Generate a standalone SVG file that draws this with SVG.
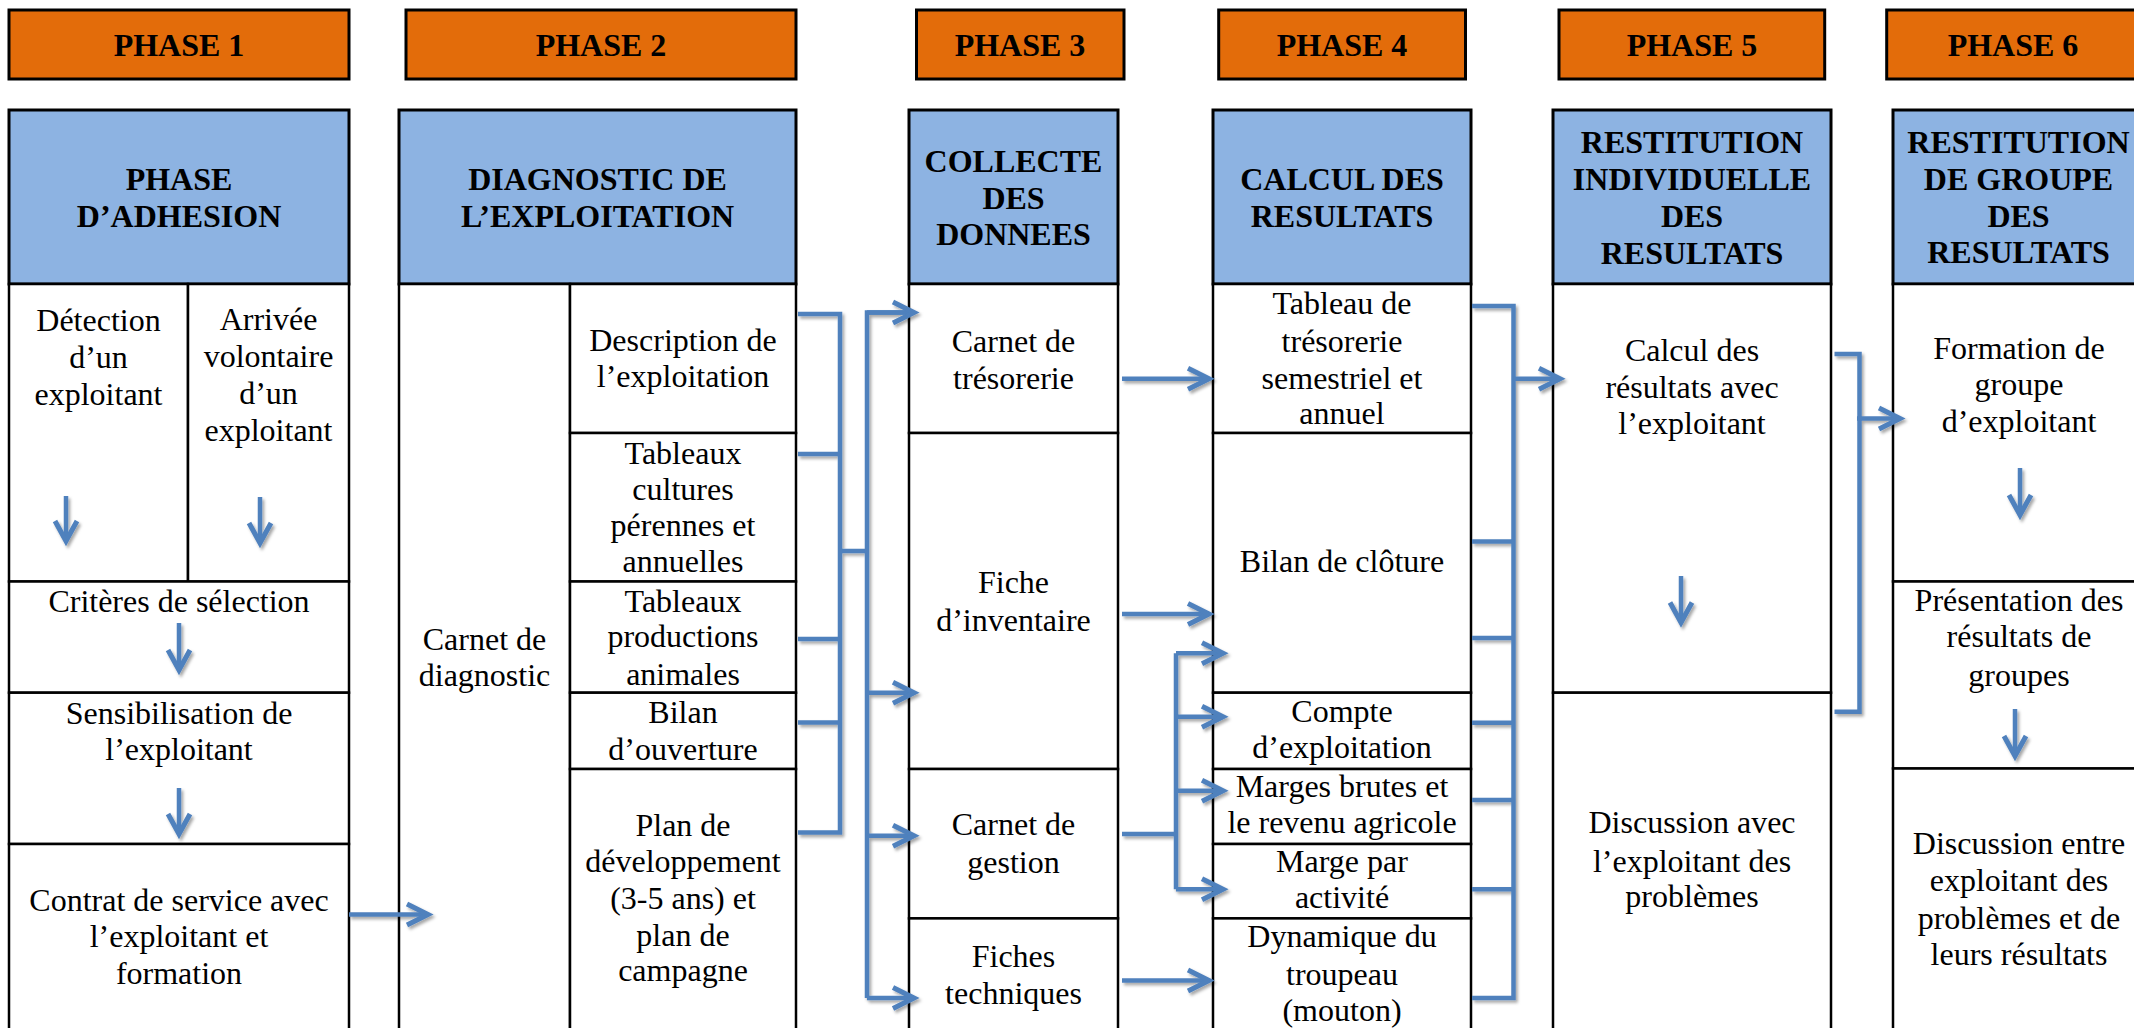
<svg xmlns="http://www.w3.org/2000/svg" width="2134" height="1028" viewBox="0 0 2134 1028" font-family="'Liberation Serif', 'DejaVu Serif', serif">
<defs>
<style>
.ph{fill:#E36C0A;stroke:#000;stroke-width:3}
.hd{fill:#8DB3E2;stroke:#000;stroke-width:3}
.cell{fill:#fff;stroke:#000;stroke-width:2.5}
.tb{font-family:'Liberation Serif','DejaVu Serif',serif;font-weight:bold;font-size:32px;fill:#000;text-anchor:middle}
.t{font-family:'Liberation Serif','DejaVu Serif',serif;font-size:32px;fill:#000;text-anchor:middle}
.c{fill:none;stroke:#4F81BD;stroke-width:4.5;stroke-linejoin:miter}
.a{fill:none;stroke:#4F81BD;stroke-width:4.5;marker-end:url(#ah)}
.d{fill:none;stroke:#4F81BD;stroke-width:4.5;marker-end:url(#ahd)}
</style>
<marker id="ah" markerUnits="userSpaceOnUse" markerWidth="34" markerHeight="34" viewBox="-28 -17 34 34" refX="0" refY="0" orient="auto">
<path d="M-21,-10.5 L0,0 L-21,10.5" fill="none" stroke="#4F81BD" stroke-width="5"/>
</marker>
<marker id="ahd" markerUnits="userSpaceOnUse" markerWidth="34" markerHeight="34" viewBox="-28 -17 34 34" refX="0" refY="0" orient="auto">
<path d="M-20,-11 L0,0 L-20,11" fill="none" stroke="#4F81BD" stroke-width="5"/>
</marker>
<filter id="sh" x="-10%" y="-10%" width="130%" height="130%">
<feDropShadow dx="2" dy="2.5" stdDeviation="1.5" flood-color="#000" flood-opacity="0.35"/>
</filter>
</defs>
<rect width="2134" height="1028" fill="#fff"/>

<g id="phase1">
<rect class="ph" x="9" y="10" width="340" height="69"/>
<text class="tb" x="179" y="56">PHASE 1</text>
<rect class="hd" x="9" y="110" width="340" height="174"/>
<text class="tb" x="179" y="190">PHASE</text>
<text class="tb" x="179" y="227">D’ADHESION</text>
</g>
<g id="detection">
<rect class="cell" x="9" y="284" width="179" height="297.5"/>
<text class="t" x="98.5" y="331">Détection</text>
<text class="t" x="98.5" y="368">d’un</text>
<text class="t" x="98.5" y="405">exploitant</text>
</g>
<g id="arrivee">
<rect class="cell" x="188" y="284" width="161" height="297.5"/>
<text class="t" x="268.5" y="330">Arrivée</text>
<text class="t" x="268.5" y="367">volontaire</text>
<text class="t" x="268.5" y="404">d’un</text>
<text class="t" x="268.5" y="441">exploitant</text>
</g>
<g id="criteres">
<rect class="cell" x="9" y="581.5" width="340" height="111.2"/>
<text class="t" x="179" y="611.6">Critères de sélection</text>
</g>
<g id="sensibilisation">
<rect class="cell" x="9" y="692.7" width="340" height="151.3"/>
<text class="t" x="179" y="723.5">Sensibilisation de</text>
<text class="t" x="179" y="759.5">l’exploitant</text>
</g>
<g id="contrat">
<rect class="cell" x="9" y="844" width="340" height="200"/>
<text class="t" x="179" y="910.7">Contrat de service avec</text>
<text class="t" x="179" y="946.5">l’exploitant et</text>
<text class="t" x="179" y="983.7">formation</text>
</g>

<g id="phase2">
<rect class="ph" x="406" y="10" width="390" height="69"/>
<text class="tb" x="601" y="56">PHASE 2</text>
<rect class="hd" x="399" y="110" width="397" height="174"/>
<text class="tb" x="597.5" y="190">DIAGNOSTIC DE</text>
<text class="tb" x="597.5" y="227">L’EXPLOITATION</text>
</g>
<g id="carnet-diagnostic">
<rect class="cell" x="399" y="284" width="171" height="760"/>
<text class="t" x="484.5" y="649.7">Carnet de</text>
<text class="t" x="484.5" y="685.5">diagnostic</text>
</g>
<g id="description">
<rect class="cell" x="570" y="284" width="226" height="149"/>
<text class="t" x="683" y="350.6">Description de</text>
<text class="t" x="683" y="387">l’exploitation</text>
</g>
<g id="tableaux-cultures">
<rect class="cell" x="570" y="433" width="226" height="148.5"/>
<text class="t" x="683" y="463.7">Tableaux</text>
<text class="t" x="683" y="499.5">cultures</text>
<text class="t" x="683" y="536">pérennes et</text>
<text class="t" x="683" y="572">annuelles</text>
</g>
<g id="tableaux-productions">
<rect class="cell" x="570" y="581.5" width="226" height="111.2"/>
<text class="t" x="683" y="611.6">Tableaux</text>
<text class="t" x="683" y="647">productions</text>
<text class="t" x="683" y="684.6">animales</text>
</g>
<g id="bilan-ouverture">
<rect class="cell" x="570" y="692.7" width="226" height="76.3"/>
<text class="t" x="683" y="722.7">Bilan</text>
<text class="t" x="683" y="759.5">d’ouverture</text>
</g>
<g id="plan">
<rect class="cell" x="570" y="769" width="226" height="275"/>
<text class="t" x="683" y="836">Plan de</text>
<text class="t" x="683" y="871.6">développement</text>
<text class="t" x="683" y="908.8">(3-5 ans) et</text>
<text class="t" x="683" y="945.5">plan de</text>
<text class="t" x="683" y="981">campagne</text>
</g>

<g id="phase3">
<rect class="ph" x="916.5" y="10" width="207.5" height="69"/>
<text class="tb" x="1020" y="56">PHASE 3</text>
<rect class="hd" x="909" y="110" width="209" height="174"/>
<text class="tb" x="1013.5" y="172">COLLECTE</text>
<text class="tb" x="1013.5" y="208.5">DES</text>
<text class="tb" x="1013.5" y="245">DONNEES</text>
</g>
<g id="carnet-tresorerie">
<rect class="cell" x="909" y="284" width="209" height="149"/>
<text class="t" x="1013.5" y="351.6">Carnet de</text>
<text class="t" x="1013.5" y="388.8">trésorerie</text>
</g>
<g id="fiche-inventaire">
<rect class="cell" x="909" y="433" width="209" height="336"/>
<text class="t" x="1013.5" y="592.5">Fiche</text>
<text class="t" x="1013.5" y="630.7">d’inventaire</text>
</g>
<g id="carnet-gestion">
<rect class="cell" x="909" y="769" width="209" height="149.4"/>
<text class="t" x="1013.5" y="834.9">Carnet de</text>
<text class="t" x="1013.5" y="873">gestion</text>
</g>
<g id="fiches-techniques">
<rect class="cell" x="909" y="918.4" width="209" height="125.6"/>
<text class="t" x="1013.5" y="967">Fiches</text>
<text class="t" x="1013.5" y="1004">techniques</text>
</g>

<g id="phase4">
<rect class="ph" x="1218.7" y="10" width="246.8" height="69"/>
<text class="tb" x="1342" y="56">PHASE 4</text>
<rect class="hd" x="1213" y="110" width="258" height="174"/>
<text class="tb" x="1342" y="190">CALCUL DES</text>
<text class="tb" x="1342" y="227">RESULTATS</text>
</g>
<g id="tableau-tresorerie">
<rect class="cell" x="1213" y="284" width="258" height="149"/>
<text class="t" x="1342" y="314">Tableau de</text>
<text class="t" x="1342" y="351.6">trésorerie</text>
<text class="t" x="1342" y="388.8">semestriel et</text>
<text class="t" x="1342" y="424">annuel</text>
</g>
<g id="bilan-cloture">
<rect class="cell" x="1213" y="433" width="258" height="259.7"/>
<text class="t" x="1342" y="572">Bilan de clôture</text>
</g>
<g id="compte-exploitation">
<rect class="cell" x="1213" y="692.7" width="258" height="76.3"/>
<text class="t" x="1342" y="722">Compte</text>
<text class="t" x="1342" y="758.3">d’exploitation</text>
</g>
<g id="marges-brutes">
<rect class="cell" x="1213" y="769" width="258" height="75"/>
<text class="t" x="1342" y="796.5">Marges brutes et</text>
<text class="t" x="1342" y="833">le revenu agricole</text>
</g>
<g id="marge-activite">
<rect class="cell" x="1213" y="844" width="258" height="74.4"/>
<text class="t" x="1342" y="871.5">Marge par</text>
<text class="t" x="1342" y="908">activité</text>
</g>
<g id="dynamique">
<rect class="cell" x="1213" y="918.4" width="258" height="125.6"/>
<text class="t" x="1342" y="947">Dynamique du</text>
<text class="t" x="1342" y="985">troupeau</text>
<text class="t" x="1342" y="1021">(mouton)</text>
</g>

<g id="phase5">
<rect class="ph" x="1559" y="10" width="265.7" height="69"/>
<text class="tb" x="1692" y="56">PHASE 5</text>
<rect class="hd" x="1553" y="110" width="278" height="174"/>
<text class="tb" x="1692" y="153">RESTITUTION</text>
<text class="tb" x="1692" y="190">INDIVIDUELLE</text>
<text class="tb" x="1692" y="227">DES</text>
<text class="tb" x="1692" y="263.5">RESULTATS</text>
</g>
<g id="calcul-resultats">
<rect class="cell" x="1553" y="284" width="278" height="408.7"/>
<text class="t" x="1692" y="361">Calcul des</text>
<text class="t" x="1692" y="397.8">résultats avec</text>
<text class="t" x="1692" y="433.6">l’exploitant</text>
</g>
<g id="discussion-exploitant">
<rect class="cell" x="1553" y="692.7" width="278" height="351.3"/>
<text class="t" x="1692" y="833.4">Discussion avec</text>
<text class="t" x="1692" y="871.6">l’exploitant des</text>
<text class="t" x="1692" y="907.4">problèmes</text>
</g>

<g id="phase6">
<rect class="ph" x="1886.7" y="10" width="260" height="69"/>
<text class="tb" x="2013" y="56">PHASE 6</text>
<rect class="hd" x="1893" y="110" width="251" height="174"/>
<text class="tb" x="2018.5" y="153">RESTITUTION</text>
<text class="tb" x="2018.5" y="189.5">DE GROUPE</text>
<text class="tb" x="2018.5" y="226.7">DES</text>
<text class="tb" x="2018.5" y="263.3">RESULTATS</text>
</g>
<g id="formation-groupe">
<rect class="cell" x="1893" y="284" width="251" height="297.5"/>
<text class="t" x="2019" y="358.7">Formation de</text>
<text class="t" x="2019" y="394.5">groupe</text>
<text class="t" x="2019" y="431.7">d’exploitant</text>
</g>
<g id="presentation-groupes">
<rect class="cell" x="1893" y="581.5" width="251" height="187"/>
<text class="t" x="2019" y="610.6">Présentation des</text>
<text class="t" x="2019" y="647.4">résultats de</text>
<text class="t" x="2019" y="685.5">groupes</text>
</g>
<g id="discussion-groupe">
<rect class="cell" x="1893" y="768.5" width="251" height="275.5"/>
<text class="t" x="2019" y="854">Discussion entre</text>
<text class="t" x="2019" y="891">exploitant des</text>
<text class="t" x="2019" y="929">problèmes et de</text>
<text class="t" x="2019" y="965">leurs résultats</text>
</g>

<g id="connectors" filter="url(#sh)">
<path class="d" d="M66,496 V541"/>
<path class="d" d="M260,497 V543"/>
<path class="d" d="M179,623 V670"/>
<path class="d" d="M179,788 V834"/>
<path class="d" d="M1681,576 V622.5"/>
<path class="d" d="M2020,468 V515"/>
<path class="d" d="M2015,709 V756"/>
<path class="a" d="M349,914.5 H428"/>
<path class="c" d="M798,314 H840 V832.5 H798 M798,454 H840 M798,639 H840 M798,722.5 H840 M840,551 H867"/>
<path class="c" d="M914,312.5 H867 V998"/>
<path class="a" d="M867,312.5 H914"/>
<path class="a" d="M867,692.7 H914"/>
<path class="a" d="M867,835.8 H914"/>
<path class="a" d="M867,998 H914"/>
<path class="a" d="M1122,378.8 H1209"/>
<path class="a" d="M1122,614 H1209"/>
<path class="a" d="M1122,980.4 H1209"/>
<path class="c" d="M1122,834 H1176 M1176,653.3 V889.3"/>
<path class="a" d="M1176,653.3 H1223"/>
<path class="a" d="M1176,716.7 H1223"/>
<path class="a" d="M1176,790.7 H1223"/>
<path class="a" d="M1176,889.3 H1223"/>
<path class="c" d="M1472,306 H1513.5 V998 H1472 M1472,541.5 H1513.5 M1472,638 H1513.5 M1472,722.7 H1513.5 M1472,800 H1513.5 M1472,889.3 H1513.5"/>
<path class="a" d="M1513.5,378.8 H1560"/>
<path class="c" d="M1834.5,354 H1859.5 V711.8 H1834.5"/>
<path class="a" d="M1857,418.4 H1900"/>
</g>
</svg>
